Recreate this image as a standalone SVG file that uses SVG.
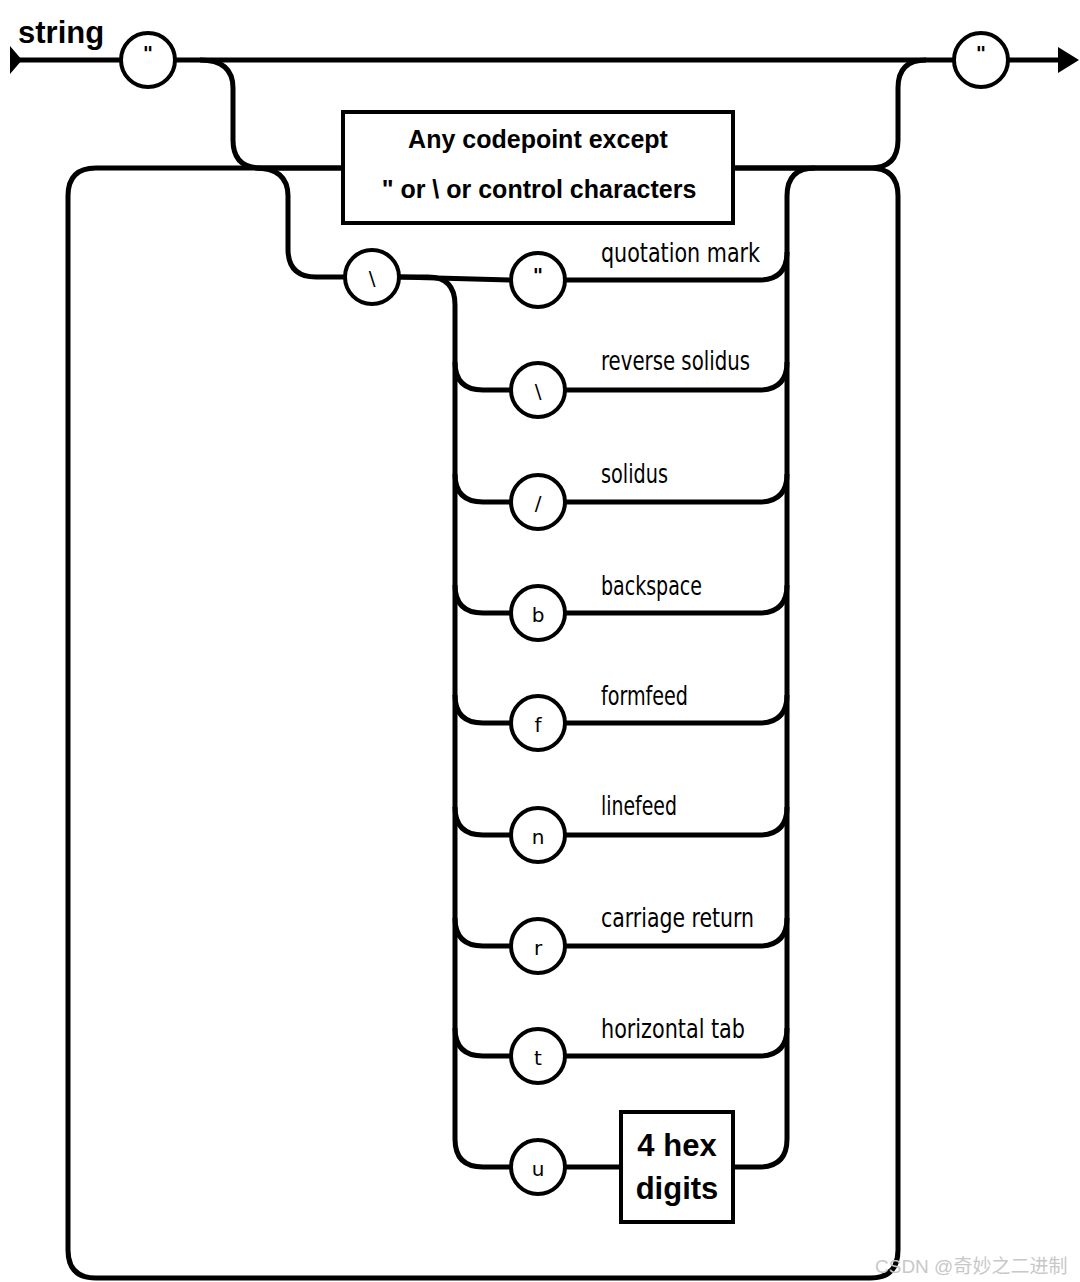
<svg xmlns="http://www.w3.org/2000/svg" width="1080" height="1282" viewBox="0 0 1080 1282">
<style>
.w{fill:none;stroke:#000;stroke-width:5;stroke-linejoin:round}
.n{fill:#fff;stroke:#000;stroke-width:4}
.t{font-family:"Liberation Sans",sans-serif;font-weight:bold;fill:#000}
.c{font-family:"DejaVu Sans",sans-serif;font-size:20px;text-anchor:middle;fill:#000}
.l{font-family:"DejaVu Sans Condensed","DejaVu Sans",sans-serif;font-size:27px;fill:#000}
</style>
<rect width="1080" height="1282" fill="#fff"/>
<g id="connectors">
<path class="w" d="M12 60H1062"/>
<path d="M10 46L22 60L10 74Z"/>
<path d="M1058 47L1079 60L1058 73Z"/>
<path class="w" d="M200 60Q233 60 233 88V140Q233 168 261 168H343M733 168H870Q898 168 898 140V88Q898 60 926 60"/>
<path class="w" d="M255 168Q288 168 288 196V249Q288 277 316 277H345"/>
<path class="w" d="M96 168H815Q843 168 870 168Q898 168 898 196V1250Q898 1278 870 1278H96Q68 1278 68 1250V196Q68 168 96 168"/>
<path class="w" d="M400 277L511 280"/>
<path class="w" d="M400 277H428Q455 277 455 305V1139Q455 1167 483 1167H511"/>
<path class="w" d="M455 362Q455 390 483 390H511M455 474Q455 502 483 502H511M455 585Q455 613 483 613H511M455 695Q455 723 483 723H511M455 807Q455 835 483 835H511M455 918Q455 946 483 946H511M455 1028Q455 1056 483 1056H511"/>
<path class="w" d="M565 280H759Q787 280 787 252V196Q787 168 815 168"/>
<path class="w" d="M787 252V1139Q787 1167 759 1167H733M565 1167H621"/>
<path class="w" d="M565 390H759Q787 390 787 362M565 502H759Q787 502 787 474M565 613H759Q787 613 787 585M565 723H759Q787 723 787 695M565 835H759Q787 835 787 807M565 946H759Q787 946 787 918M565 1056H759Q787 1056 787 1028"/>
</g>
<text class="t" x="18" y="43" font-size="31">string</text>
<g id="q1"><circle class="n" cx="148" cy="60" r="27"/><text class="c" x="148" y="60" style="font-weight:bold">"</text></g>
<g id="q2"><circle class="n" cx="981" cy="60" r="27"/><text class="c" x="981" y="60" style="font-weight:bold">"</text></g>
<g id="any"><rect class="n" x="343" y="112" width="390" height="111"/>
<text class="t" x="538" y="148" font-size="25" text-anchor="middle">Any codepoint except</text>
<text class="t" x="539" y="198" font-size="25" text-anchor="middle">" or \ or control characters</text></g>
<g id="bs"><circle class="n" cx="372" cy="277" r="27"/><text class="c" x="372" y="285" font-size="26">\</text></g>
<g id="e1"><circle class="n" cx="538" cy="280" r="27"/><text class="c" x="538" y="282" style="font-weight:bold">"</text><text class="l" x="601" y="262" textLength="159" lengthAdjust="spacingAndGlyphs">quotation mark</text></g>
<g id="e2"><circle class="n" cx="538" cy="390" r="27"/><text class="c" x="538" y="398" font-size="26">\</text><text class="l" x="601" y="370" textLength="149" lengthAdjust="spacingAndGlyphs">reverse solidus</text></g>
<g id="e3"><circle class="n" cx="538" cy="502" r="27"/><text class="c" x="538" y="510" font-size="26">/</text><text class="l" x="601" y="483" textLength="67" lengthAdjust="spacingAndGlyphs">solidus</text></g>
<g id="e4"><circle class="n" cx="538" cy="613" r="27"/><text class="c" x="538" y="622" font-size="26">b</text><text class="l" x="601" y="595" textLength="101" lengthAdjust="spacingAndGlyphs">backspace</text></g>
<g id="e5"><circle class="n" cx="538" cy="723" r="27"/><text class="c" x="538" y="732" font-size="26">f</text><text class="l" x="601" y="705" textLength="87" lengthAdjust="spacingAndGlyphs">formfeed</text></g>
<g id="e6"><circle class="n" cx="538" cy="835" r="27"/><text class="c" x="538" y="844" font-size="26">n</text><text class="l" x="601" y="815" textLength="76" lengthAdjust="spacingAndGlyphs">linefeed</text></g>
<g id="e7"><circle class="n" cx="538" cy="946" r="27"/><text class="c" x="538" y="955" font-size="26">r</text><text class="l" x="601" y="927" textLength="153" lengthAdjust="spacingAndGlyphs">carriage return</text></g>
<g id="e8"><circle class="n" cx="538" cy="1056" r="27"/><text class="c" x="538" y="1065" font-size="26">t</text><text class="l" x="601" y="1038" textLength="144" lengthAdjust="spacingAndGlyphs">horizontal tab</text></g>
<g id="e9"><circle class="n" cx="538" cy="1167" r="27"/><text class="c" x="538" y="1176" font-size="26">u</text></g>
<g id="hex"><rect class="n" x="621" y="1112" width="112" height="110"/>
<text class="t" x="677" y="1156" font-size="31" text-anchor="middle">4 hex</text>
<text class="t" x="677" y="1199" font-size="31" text-anchor="middle">digits</text></g>
<text x="875" y="1273" font-family="'Liberation Sans','Noto Sans CJK SC',sans-serif" font-size="19" fill="#c8c8c8">CSDN @奇妙之二进制</text>
</svg>
